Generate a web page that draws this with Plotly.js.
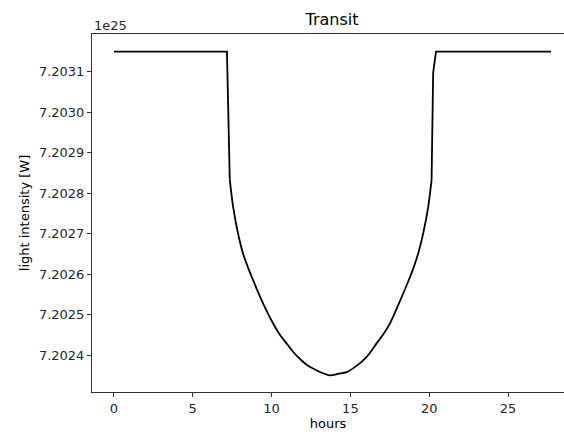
<!DOCTYPE html>
<html>
<head>
<meta charset="utf-8">
<script src="https://cdn.plot.ly/plotly-3.0.1.min.js"></script>
<style>html,body{margin:0;padding:0;background:#fff;overflow:hidden}</style>
</head>
<body>
<div id="chart" style="width:564px;height:432px"></div>
<script>
// time in hours
var hours = [0, 7.17, 7.35, 7.56, 7.87, 8.19, 8.57, 8.83, 9.15, 9.46, 9.78, 10.10, 10.5, 10.95, 11.35, 11.79, 12.2, 12.63, 13.15, 13.7, 14.25, 14.76, 15.3, 15.81, 16.25, 16.66, 17.1, 17.5, 18.08, 18.7, 18.95, 19.30, 19.62, 19.94, 20.15, 20.25, 20.43, 27.73];
// light intensity in units of 1e25 W
var intensity = [7.20315, 7.20315, 7.202833, 7.202767, 7.202701, 7.202651, 7.202610, 7.202585, 7.202555, 7.202528, 7.202502, 7.202478, 7.202452, 7.202429, 7.202409, 7.202391, 7.202377, 7.202367, 7.202357, 7.202350, 7.202354, 7.202358, 7.202371, 7.202387, 7.202406, 7.202429, 7.202452, 7.202478, 7.202528, 7.202585, 7.202610, 7.202651, 7.202701, 7.202767, 7.202833, 7.203097, 7.20315, 7.20315];
var yTickVals = [7.2024, 7.2025, 7.2026, 7.2027, 7.2028, 7.2029, 7.2030, 7.2031];
var yTickText = ["7.2024", "7.2025", "7.2026", "7.2027", "7.2028", "7.2029", "7.2030", "7.2031"];
var xTickVals = [0, 5, 10, 15, 20, 25];

var font = "DejaVu Sans, Liberation Sans, sans-serif";
// transit bottom (curved part) between the ingress and egress kinks
var kinkIn = 2, kinkOut = 34;
var lineStyle = {color: "#000000", width: 1.8};
var traces = [
  {x: hours.slice(0, kinkIn + 1), y: intensity.slice(0, kinkIn + 1), type: "scatter", mode: "lines",
   line: lineStyle, hoverinfo: "skip", showlegend: false},
  {x: hours.slice(kinkIn, kinkOut + 1), y: intensity.slice(kinkIn, kinkOut + 1), type: "scatter", mode: "lines",
   line: Object.assign({shape: "spline", smoothing: 0.8}, lineStyle), hoverinfo: "skip", showlegend: false},
  {x: hours.slice(kinkOut), y: intensity.slice(kinkOut), type: "scatter", mode: "lines",
   line: lineStyle, hoverinfo: "skip", showlegend: false}
];
var axisCommon = {
  showgrid: false, zeroline: false, showline: true, linecolor: "#333333", linewidth: 1,
  ticks: "outside", ticklen: 4, tickwidth: 1, tickcolor: "#333333",
  tickfont: {family: font, size: 13, color: "#262626"}
};
var layout = {
  width: 564, height: 432,
  margin: {l: 92, r: 0, t: 34, b: 40, pad: 0},
  paper_bgcolor: "#ffffff", plot_bgcolor: "#ffffff",
  title: {text: "Transit", font: {family: font, size: 16, color: "#000000"},
          xref: "container", x: 332/564, xanchor: "center",
          yref: "container", y: 1 - 19/432, yanchor: "middle"},
  xaxis: Object.assign({}, axisCommon, {
    range: [-1.39, 28.55], tickvals: xTickVals, mirror: true,
    title: {text: "hours", font: {family: font, size: 13, color: "#000000"}, standoff: 4}
  }),
  yaxis: Object.assign({}, axisCommon, {
    range: [7.2023089, 7.2031933], tickvals: yTickVals, ticktext: yTickText,
    title: {text: "light intensity [W]", font: {family: font, size: 13, color: "#000000"}, standoff: 6}
  }),
  annotations: [{
    text: "1e25", xref: "paper", x: 0, xanchor: "left", yref: "paper", y: 1.025, yanchor: "middle",
    showarrow: false, font: {family: font, size: 13, color: "#262626"}
  }]
};
Plotly.newPlot("chart", traces, layout, {displayModeBar: false, staticPlot: true});
</script>
</body>
</html>
